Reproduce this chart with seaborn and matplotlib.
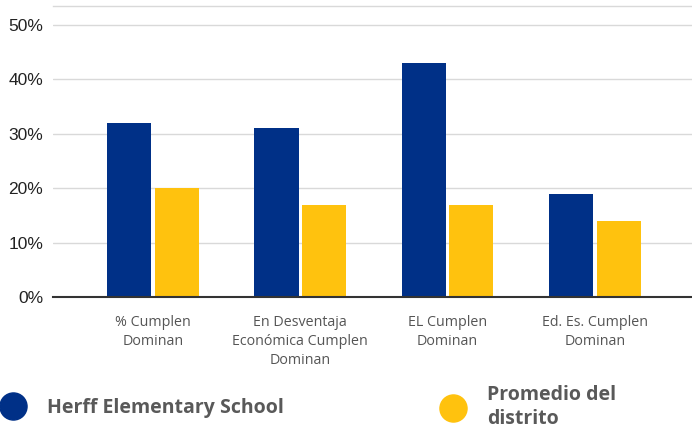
import matplotlib
matplotlib.use("Agg")
import matplotlib.pyplot as plt
import seaborn as sns
import pandas as pd
from matplotlib.lines import Line2D

categories = ["% Cumplen\nDominan", "En Desventaja\nEconómica Cumplen\nDominan",
              "EL Cumplen\nDominan", "Ed. Es. Cumplen\nDominan"]
school = [32, 31, 43, 19]
district = [20, 17, 17, 14]
series_names = ["Herff Elementary School", "Promedio del\ndistrito"]
colors = ["#003087", "#FFC20E"]
yticks = [0, 10, 20, 30, 40, 50]

df = pd.DataFrame({
    "cat": categories * 2,
    "val": school + district,
    "series": [series_names[0]] * 4 + [series_names[1]] * 4,
})

sns.set_theme(style="white")
plt.rcParams['font.family'] = ['Liberation Sans', 'DejaVu Sans']

fig = plt.figure(figsize=(6.92, 4.30), dpi=100)
ax = fig.add_axes([53/692, 1 - 297/430, 1 - 53/692, (297 - 6)/430])

sns.barplot(data=df, x="cat", y="val", hue="series", palette=colors,
            width=0.645, gap=0.07, ax=ax, legend=False, saturation=1,
            edgecolor="none")

ax.set_xlim(-0.679, 3.659)
ax.set_ylim(0, 53.5)
ax.set_yticks(yticks)
ax.set_yticklabels([f"{v}%" for v in yticks], fontsize=12.5, color="#222222")
ax.yaxis.grid(True, color="#d9d9d9", linewidth=1)
ax.set_axisbelow(True)
ax.tick_params(axis="y", length=0, pad=7)
ax.tick_params(axis="x", length=0, pad=13)
for lbl in ax.get_xticklabels():
    lbl.set_fontfamily(["Open Sans", "DejaVu Sans"])
    lbl.set_fontsize(10.3)
    lbl.set_color("#555555")
    lbl.set_linespacing(1.35)
    lbl.set_verticalalignment("top")
ax.set_xlabel("")
ax.set_ylabel("")
for s in ["left", "right"]:
    ax.spines[s].set_visible(False)
ax.spines["top"].set_color("#d9d9d9")
ax.spines["top"].set_linewidth(1)
ax.spines["bottom"].set_color("#333333")
ax.spines["bottom"].set_linewidth(1.5)

h1 = Line2D([], [], marker="o", linestyle="none", markersize=19.5,
            markerfacecolor=colors[0], markeredgecolor=colors[0])
h2 = Line2D([], [], marker="o", linestyle="none", markersize=19.5,
            markerfacecolor=colors[1], markeredgecolor=colors[1])
legprop = {"family": "Open Sans", "weight": "bold", "size": 14}
leg1 = fig.legend([h1], [series_names[0]], loc="center left",
                  bbox_to_anchor=(-0.0205, 1 - 408/430), frameon=False,
                  handletextpad=0.75, borderaxespad=0, prop=legprop)
leg2 = fig.legend([h2], [series_names[1]], loc="center left",
                  bbox_to_anchor=(0.6153, 1 - 407/430), frameon=False,
                  handletextpad=0.75, borderaxespad=0, prop=legprop)
leg1.get_texts()[0].set_color("#595959")
for t in leg2.get_texts():
    t.set_color("#595959")
    t.set_linespacing(1.2)

fig.savefig("out.png", dpi=100)
